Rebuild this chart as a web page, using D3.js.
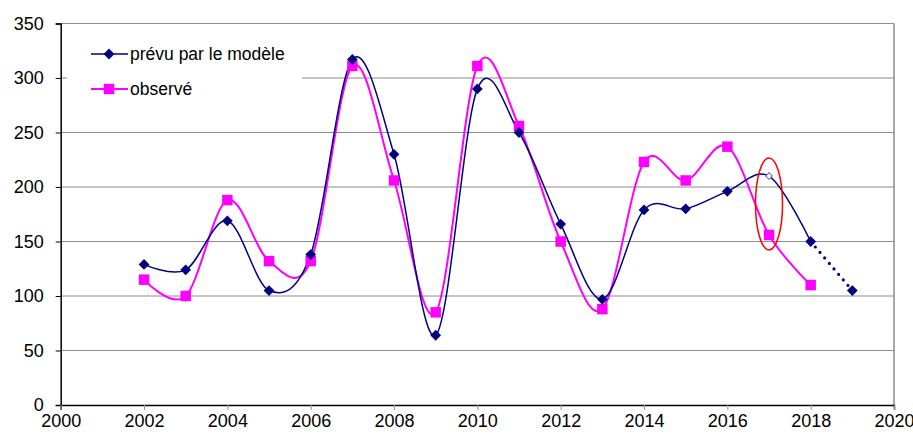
<!DOCTYPE html>
<html><head><meta charset="utf-8">
<script src="https://cdn.jsdelivr.net/npm/d3@7"></script>
<style>body{margin:0;background:#fff}svg{display:block}text{font-family:"Liberation Sans",Arial,sans-serif;fill:#000}</style>
</head><body>
<svg id="c" width="913" height="437"></svg>
<script>
const years = [2002,2003,2004,2005,2006,2007,2008,2009,2010,2011,2012,2013,2014,2015,2016,2017,2018];
const prevu = [129,124,169,105,138,317,230,64,290,250,166,97,179,180,196,210,150];
const prevuExtYears = [2018,2019];
const prevuExt = [150,105];
const observe = [115,100,188,132,132,311,206,85,311,256,150,88,223,206,237,156,110];
const xTicks = [2000,2002,2004,2006,2008,2010,2012,2014,2016,2018,2020];
const yTicks = [0,50,100,150,200,250,300,350];
const legendLabels = ["prévu par le modèle","observé"];

const svg = d3.select("#c");
const x = d3.scaleLinear().domain([2000,2020]).range([60.7,894]);
const y = d3.scaleLinear().domain([0,350]).range([405,23.5]);
const navy = "#000080", mag = "#FF00FF";

svg.append("g").selectAll("line").data(yTicks.filter(d=>d>0)).join("line")
  .attr("x1",x(2000)).attr("x2",x(2020)).attr("y1",d=>y(d)).attr("y2",d=>y(d))
  .attr("stroke","#8c8c8c").attr("stroke-width",1.2);
svg.append("line").attr("x1",x(2020)).attr("x2",x(2020)).attr("y1",y(350)).attr("y2",y(0))
  .attr("stroke","#8c8c8c").attr("stroke-width",1.5);

const yAxis = svg.append("g").attr("transform",`translate(${x(2000)},0)`)
  .call(d3.axisLeft(y).tickValues(yTicks).tickSize(5).tickPadding(12));
const xAxis = svg.append("g").attr("transform",`translate(0,${y(0)})`)
  .call(d3.axisBottom(x).tickValues(xTicks).tickFormat(d3.format("d")).tickSize(5).tickPadding(4));
[yAxis,xAxis].forEach(g=>{
  g.select(".domain").attr("stroke","#000").attr("stroke-width",1.5);
  g.selectAll(".tick line").attr("stroke","#000");
  g.selectAll("text").style("font-size","18px").attr("fill","#000");
});
xAxis.selectAll(".tick line").attr("stroke","#999");

svg.append("rect").attr("x",67).attr("y",32).attr("width",235).attr("height",78).attr("fill","#fff");

const curve = d3.curveCardinal.tension(0);
const lineP = d3.line().x((d,i)=>x(years[i])).y(d=>y(d)).curve(curve);
svg.append("path").attr("d",lineP(observe)).attr("fill","none").attr("stroke",mag).attr("stroke-width",2);
svg.append("path").attr("d",lineP(prevu)).attr("fill","none").attr("stroke",navy).attr("stroke-width",1.5);
svg.append("path").attr("d",d3.line().x((d,i)=>x(prevuExtYears[i])).y(d=>y(d))(prevuExt))
  .attr("fill","none").attr("stroke",navy).attr("stroke-width",3.2)
  .attr("stroke-linecap","round").attr("stroke-dasharray","0 7.2");

const sq = d3.symbol().type(d3.symbolSquare).size(110)();
const dia = d3.symbol().type(d3.symbolSquare).size(58)();
const diaSmall = d3.symbol().type(d3.symbolSquare).size(22)();
svg.append("g").selectAll("path").data(observe).join("path")
  .attr("transform",(d,i)=>`translate(${x(years[i])},${y(d)})`).attr("d",sq).attr("fill",mag);
svg.append("g").selectAll("path").data(prevu).join("path")
  .attr("transform",(d,i)=>`translate(${x(years[i])},${y(d)}) rotate(45)`)
  .attr("d",(d,i)=>years[i]===2017 ? diaSmall : dia)
  .attr("fill",(d,i)=>years[i]===2017 ? "#fff" : navy)
  .attr("stroke",(d,i)=>years[i]===2017 ? "#6a6ab0" : "none").attr("stroke-width",1);
svg.append("path").attr("transform",`translate(${x(2019)},${y(105)}) rotate(45)`).attr("d",dia).attr("fill",navy);

svg.append("ellipse").attr("cx",x(2017)).attr("cy",204).attr("rx",13.5).attr("ry",46)
  .attr("fill","none").attr("stroke","#ff0000").attr("stroke-width",1.5);

const leg = svg.append("g");
const rows = [{c:navy,t:legendLabels[0],yy:54,s:dia,r:45,w:1.5},{c:mag,t:legendLabels[1],yy:89,s:sq,r:0,w:2}];
rows.forEach(r=>{
  leg.append("line").attr("x1",91).attr("x2",128).attr("y1",r.yy).attr("y2",r.yy).attr("stroke",r.c).attr("stroke-width",r.w);
  leg.append("path").attr("transform",`translate(109,${r.yy}) rotate(${r.r})`).attr("d",r.s).attr("fill",r.c);
  leg.append("text").attr("x",130).attr("y",r.yy).attr("dy","0.35em").style("font-size","17.5px").text(r.t);
});
</script>
</body></html>
